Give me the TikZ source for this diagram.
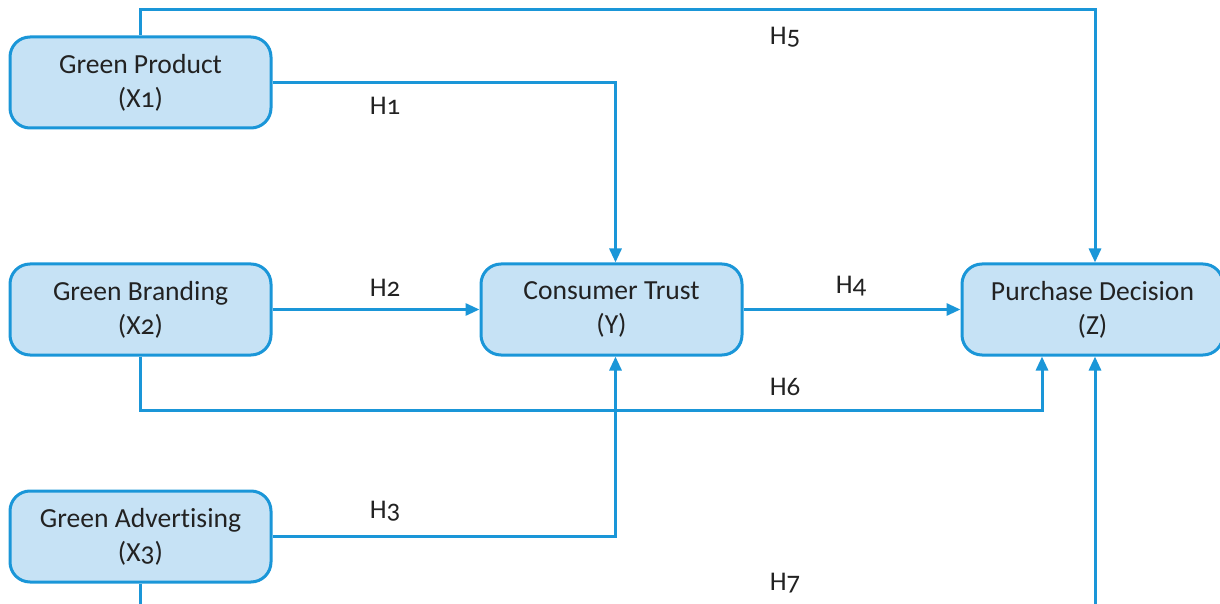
\documentclass[tikz,border=0pt]{standalone}
\usepackage{fontspec}
\setmainfont{Carlito}[Numbers=OldStyle,Ligatures=CommonOff]
\usetikzlibrary{arrows.meta}
\definecolor{lineblue}{HTML}{1A96D8}
\definecolor{boxfill}{HTML}{C6E2F5}
\definecolor{txt}{HTML}{222222}
\begin{document}
\begin{tikzpicture}[x=0.5pt,y=-0.5pt,
  box/.style={draw=lineblue, fill=boxfill, line width=1.5pt, rounded corners=10pt,
    minimum width=130.5pt, minimum height=45.5pt, align=center,
    font=\fontsize{13.8}{17}\selectfont, text=txt, inner sep=0pt},
  conn/.style={draw=lineblue, line width=1.5pt, -{Triangle[length=7pt,width=6pt]}},
  hlab/.style={font=\fontsize{13.5}{15}\selectfont, text=txt, inner sep=0pt}]
\clip (0,0) rectangle (1220,604);
\useasboundingbox (0,0) rectangle (1220,604);
\node[box] (x1) at (140.5,82.5) {Green Product\\(X1)};
\node[box] (x2) at (140.5,309.5) {Green Branding\\(X2)};
\node[box] (x3) at (140.5,536.5) {Green Advertising\\(X3)};
\node[box] (y) at (611.5,309.5) {Consumer Trust\\(Y)};
\node[box] (z) at (1092.5,309.5) {Purchase Decision\\(Z)};
\draw[conn] (x1.north) -- ++(0,-26) -| ([xshift=1.25pt]z.north);
\draw[conn] (x1.east) -| ([xshift=2pt]y.north);
\draw[conn] (x2.east) -- (y.west);
\draw[conn] (y.east) -- (z.west);
\draw[conn] (x2.south) -- ++(0,54) -| ([xshift=-25.25pt]z.south);
\draw[conn] (x3.east) -| ([xshift=2pt]y.south);
\draw[conn] (x3.south) -- ++(0,80) -| ([xshift=1.25pt]z.south);
\node[hlab] (h1) at (385,106) {H1};
\node[hlab] (h2) at (385,288) {H2};
\node[hlab] (h3) at (385,511) {H3};
\node[hlab] (h4) at (851,286) {H4};
\node[hlab] (h5) at (785,37) {H5};
\node[hlab] (h6) at (785,387) {H6};
\node[hlab] (h7) at (785,583) {H7};
\end{tikzpicture}
\end{document}
